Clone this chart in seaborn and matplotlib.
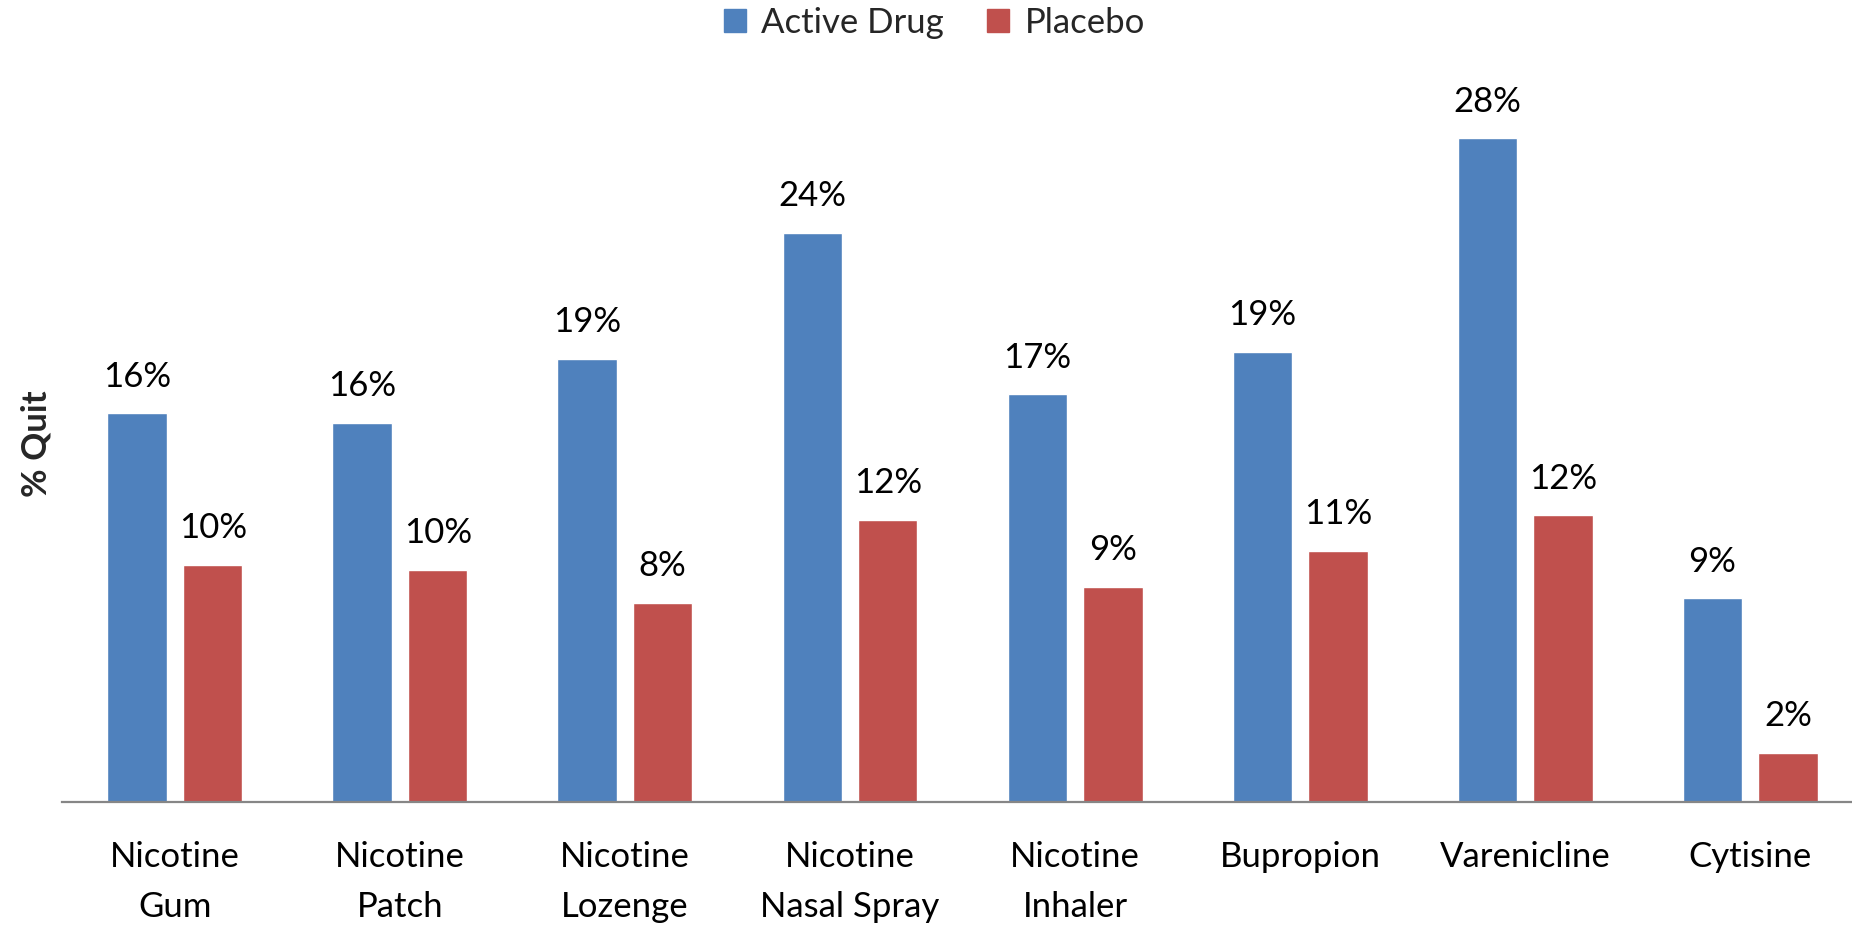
import matplotlib
matplotlib.use("Agg")
import matplotlib.pyplot as plt
import seaborn as sns
import pandas as pd

treatments = ["Nicotine\nGum", "Nicotine\nPatch", "Nicotine\nLozenge", "Nicotine\nNasal Spray",
              "Nicotine\nInhaler", "Bupropion", "Varenicline", "Cytisine"]
active_drug = [16.4, 16.0, 18.7, 24.0, 17.2, 19.0, 28.0, 8.6]
placebo = [10.0, 9.8, 8.4, 11.9, 9.1, 10.6, 12.1, 2.1]
groups = ["Active Drug", "Placebo"]
colors = ["#4F81BD", "#C0504D"]

df = pd.DataFrame({
    "treatment": treatments * 2,
    "group": [groups[0]] * len(treatments) + [groups[1]] * len(treatments),
    "quit": active_drug + placebo,
})

sns.set_theme(style="white")
plt.rcParams["font.family"] = ["Lato", "DejaVu Sans"]

fig = plt.figure(figsize=(18.52, 9.26), dpi=100)
ax = fig.add_axes([62 / 1852, 1 - 802.3 / 926, 1 - 62 / 1852, (802.3 - 91) / 926])

sns.barplot(data=df, x="treatment", y="quit", hue="group", order=treatments,
            hue_order=groups, palette=colors, width=0.671, gap=0.212,
            saturation=1, ax=ax, legend=False)

for cont in ax.containers:
    ax.bar_label(cont, labels=[f"{v:.0f}%" for v in cont.datavalues],
                 padding=15, fontsize=25, color="black")

ax.set_xlim(-0.502, 7.453)
ax.set_ylim(0, 30)
ax.set_yticks([])
ax.set_xlabel("")
ax.set_ylabel("% Quit", fontsize=25, fontweight="bold")
ax.yaxis.set_label_coords(-10 / 1790, 0.504)

for s in ["top", "right", "left"]:
    ax.spines[s].set_visible(False)
ax.spines["bottom"].set_color("#868686")
ax.spines["bottom"].set_linewidth(1.6)
ax.tick_params(axis="x", length=0, pad=28, labelsize=25, labelcolor="black")
for lbl in ax.get_xticklabels():
    lbl.set_linespacing(1.69)

handles = [plt.Rectangle((0, 0), 1, 1, color=c) for c in colors]
fig.legend(handles, groups, loc="center", bbox_to_anchor=(0.5045, 0.9757), ncol=2,
           frameon=False, fontsize=25, handlelength=0.64, handleheight=0.66,
           handletextpad=0.45, columnspacing=1.23)

fig.savefig("out.png", dpi=100)
